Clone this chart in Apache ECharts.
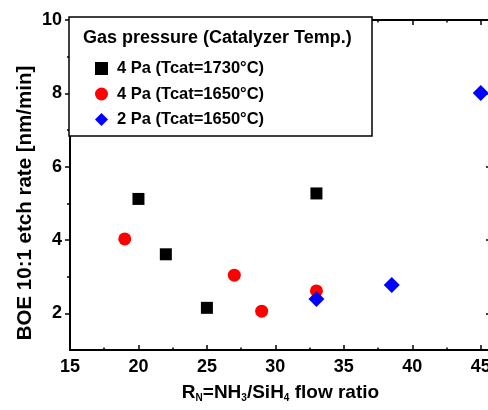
<!DOCTYPE html>
<html>
<head>
<meta charset="utf-8">
<script src="https://cdn.jsdelivr.net/npm/echarts@6/dist/echarts.min.js"></script>
<style>
  html, body { margin: 0; padding: 0; background: #fff; }
  #chart { width: 488px; height: 410px; }
</style>
</head>
<body>
<div id="chart"></div>
<script>
// series values
const names = ['4 Pa (Tcat=1730°C)', '4 Pa (Tcat=1650°C)', '2 Pa (Tcat=1650°C)']
const ratio1730 = [20, 22, 25, 33]
const rate1730 = [5.12, 3.61, 2.15, 5.27]
const ratio1650 = [19, 27, 29, 33]
const rate1650 = [4.03, 3.04, 2.06, 2.61]
const ratio2Pa = [33, 38.5, 45]
const rate2Pa = [2.39, 2.77, 8.01]

// tick labels
const xMajor = [15, 20, 25, 30, 35, 40, 45]
const xMinor = [17.5, 22.5, 27.5, 32.5, 37.5, 42.5]
const yMajor = [2, 4, 6, 8, 10]
const yMinor = [3, 5, 7, 9]

const legendTitle = 'Gas pressure (Catalyzer Temp.)'

const font = '"Liberation Sans", Arial, sans-serif'
const X_MIN = 15, X_MAX = 45.75, Y_MIN = 1, Y_MAX = 10

const pairs = (xs, ys) => xs.map((x, i) => [x, ys[i]])

const chart = echarts.init(document.getElementById('chart'))

const hidden = { show: false }
const xBase = (position, ticks, len, line) => ({
  type: 'value',
  position,
  min: X_MIN,
  max: X_MAX,
  axisLine: { show: line, onZero: false, lineStyle: { color: '#000', width: 2 } },
  axisTick: { show: true, inside: true, length: len, customValues: ticks, lineStyle: { color: '#000', width: 1.5 } },
  axisLabel: hidden,
  splitLine: hidden
})
const yBase = (position, ticks, len, inside, line) => ({
  type: 'value',
  position,
  min: Y_MIN,
  max: Y_MAX,
  axisLine: { show: line, onZero: false, lineStyle: { color: '#000', width: 2 } },
  axisTick: { show: true, inside, length: len, customValues: ticks, lineStyle: { color: '#000', width: 1.5 } },
  axisLabel: hidden,
  splitLine: hidden
})

const xMain = xBase('bottom', xMajor, 5, true)
xMain.axisLabel = {
  show: true, customValues: xMajor, margin: 8,
  color: '#000', fontFamily: font, fontSize: 18, fontWeight: 'bold'
}
xMain.name = 'R{sub|N}=NH{sub|3}/SiH{sub|4} flow ratio'
xMain.nameLocation = 'middle'
xMain.nameGap = 33
xMain.nameTextStyle = {
  color: '#000', fontFamily: font, fontSize: 19, fontWeight: 'bold',
  rich: { sub: { fontSize: 10, fontFamily: font, fontWeight: 'bold', color: '#000', verticalAlign: 'bottom', padding: [10, 0, 0, 0] } }
}

const yMain = yBase('left', yMajor, 5, false, true)
yMain.axisLabel = {
  show: true, customValues: yMajor, margin: 8,
  color: '#000', fontFamily: font, fontSize: 18, fontWeight: 'bold'
}
yMain.name = 'BOE 10:1 etch rate [nm/min]'
yMain.nameLocation = 'middle'
yMain.nameGap = 34
yMain.nameMoveOverlap = false
yMain.nameTextStyle = {
  color: '#000', fontFamily: font, fontSize: 20.5, fontWeight: 'bold',
  padding: [0, 36, 0, 0]
}

chart.setOption({
  backgroundColor: '#fff',
  animation: false,
  grid: { left: 70, top: 20, width: 421, height: 330, outerBoundsMode: 'none' },
  xAxis: [
    xMain,
    xBase('bottom', xMinor, 2.5, false),
    xBase('top', xMajor, 5, true),
    xBase('top', xMinor, 2.5, false)
  ],
  yAxis: [
    yMain,
    yBase('left', yMinor, 3, false, false),
    yBase('right', yMajor, 5, true, true)
  ],
  graphic: [
    {
      type: 'rect', z: 50,
      shape: { x: 69, y: 17, width: 303, height: 119 },
      style: { fill: '#fff', stroke: '#000', lineWidth: 1.5 }
    },
    {
      type: 'text', z: 51, left: 83, top: 29,
      style: { text: legendTitle, fill: '#000', font: 'bold 18px ' + font }
    }
  ],
  legend: {
    z: 60,
    orient: 'vertical',
    left: 90,
    top: 55,
    itemGap: 8.5,
    itemWidth: 13,
    itemHeight: 13,
    data: [
      { name: names[0], icon: 'rect' },
      { name: names[1], icon: 'circle' },
      { name: names[2], icon: 'diamond' }
    ],
    textStyle: { color: '#000', fontFamily: font, fontSize: 16.5, fontWeight: 'bold', padding: [0, 0, 0, 4] }
  },
  series: [
    {
      name: names[0], type: 'scatter', symbol: 'rect', symbolSize: 12,
      itemStyle: { color: '#000', opacity: 1 }, data: pairs(ratio1730, rate1730)
    },
    {
      name: names[1], type: 'scatter', symbol: 'circle', symbolSize: 13,
      itemStyle: { color: '#ff0000', opacity: 1 }, data: pairs(ratio1650, rate1650)
    },
    {
      name: names[2], type: 'scatter', symbol: 'diamond', symbolSize: 16,
      itemStyle: { color: '#0000ff', opacity: 1 }, data: pairs(ratio2Pa, rate2Pa)
    }
  ]
})
</script>
</body>
</html>
